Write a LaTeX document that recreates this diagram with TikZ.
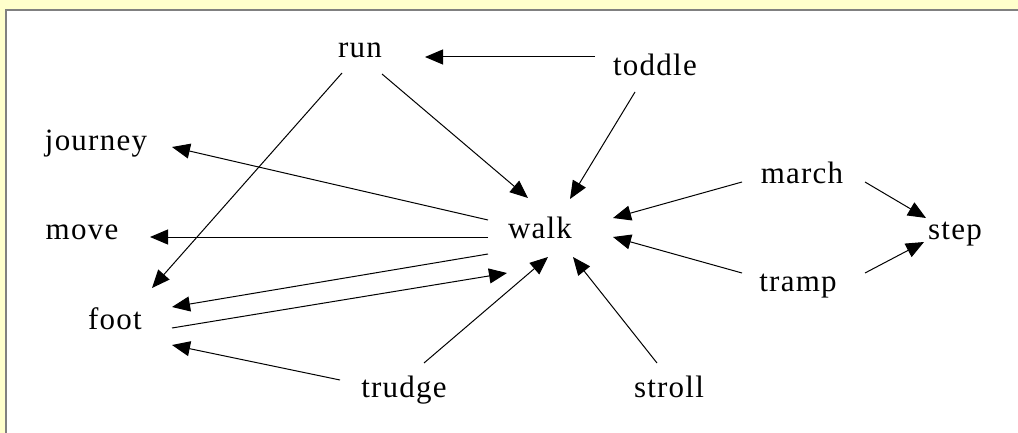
\documentclass[tikz,border=0pt]{standalone}
\usepackage{fontspec}
\setmainfont{Liberation Serif}[LetterSpace=4]
\usetikzlibrary{arrows.meta,calc}
\definecolor{paleyellow}{HTML}{FFFFCC}
\definecolor{framegray}{HTML}{808080}
\tikzset{
  word/.style={font=\fontsize{31}{34}\selectfont, inner sep=0pt, anchor=base},
  arr/.style={line width=1pt, -{Triangle[length=18pt,width=15pt]}},
}
\begin{document}
\begin{tikzpicture}[x=1pt,y=-1pt]
\useasboundingbox (0,0) rectangle (1018,433);
\fill[paleyellow] (0,0) rectangle (1018,433);
\fill[framegray] (5,9) rectangle (1018,433);
\fill[white] (7,11) rectangle (1018,433);

\node[word] (run) at (360,58) {run};
\node[word] (toddle) at (655,76) {toddle};
\node[word] (journey) at (96,151) {journey};
\node[word] (move) at (82,239) {move};
\node[word] (foot) at (115,329) {foot};
\node[word] (walk) at (540,238) {walk};
\node[word] (trudge) at (404,397) {trudge};
\node[word] (stroll) at (669,397) {stroll};
\node[word] (march) at (802,183) {march};
\node[word] (tramp) at (798,291) {tramp};
\node[word] (step) at (955,239) {step};

\draw[arr] ($(toddle.base)+(-60,-19)$) -- ($(run.base)+(65,-1)$);
\draw[arr] ($(run.base)+(22,16)$) -- ($(walk.base)+(-12,-40)$);
\draw[arr] ($(toddle.base)+(-20,16)$) -- ($(walk.base)+(30,-39)$);
\draw[arr] ($(run.base)+(-18,15)$) -- ($(foot.base)+(37,-41)$);
\draw[arr] ($(walk.base)+(-52,-18)$) -- ($(journey.base)+(76,-4)$);
\draw[arr] ($(walk.base)+(-52,-1)$) -- ($(move.base)+(68,-2)$);
\draw[arr] ($(walk.base)+(-52,16)$) -- ($(foot.base)+(57,-22)$);
\draw[arr] ($(foot.base)+(57,-1)$) -- ($(walk.base)+(-33,35)$);
\draw[arr] ($(trudge.base)+(-64,-17)$) -- ($(foot.base)+(57,16)$);
\draw[arr] ($(trudge.base)+(20,-34)$) -- ($(walk.base)+(8,19)$);
\draw[arr] ($(stroll.base)+(-12,-34)$) -- ($(walk.base)+(33,19)$);
\draw[arr] ($(march.base)+(-60,-1)$) -- ($(walk.base)+(73,-20)$);
\draw[arr] ($(tramp.base)+(-56,-18)$) -- ($(walk.base)+(73,-1)$);
\draw[arr] ($(march.base)+(63,-1)$) -- ($(step.base)+(-29,-21)$);
\draw[arr] ($(tramp.base)+(67,-18)$) -- ($(step.base)+(-31,3)$);
\end{tikzpicture}
\end{document}
